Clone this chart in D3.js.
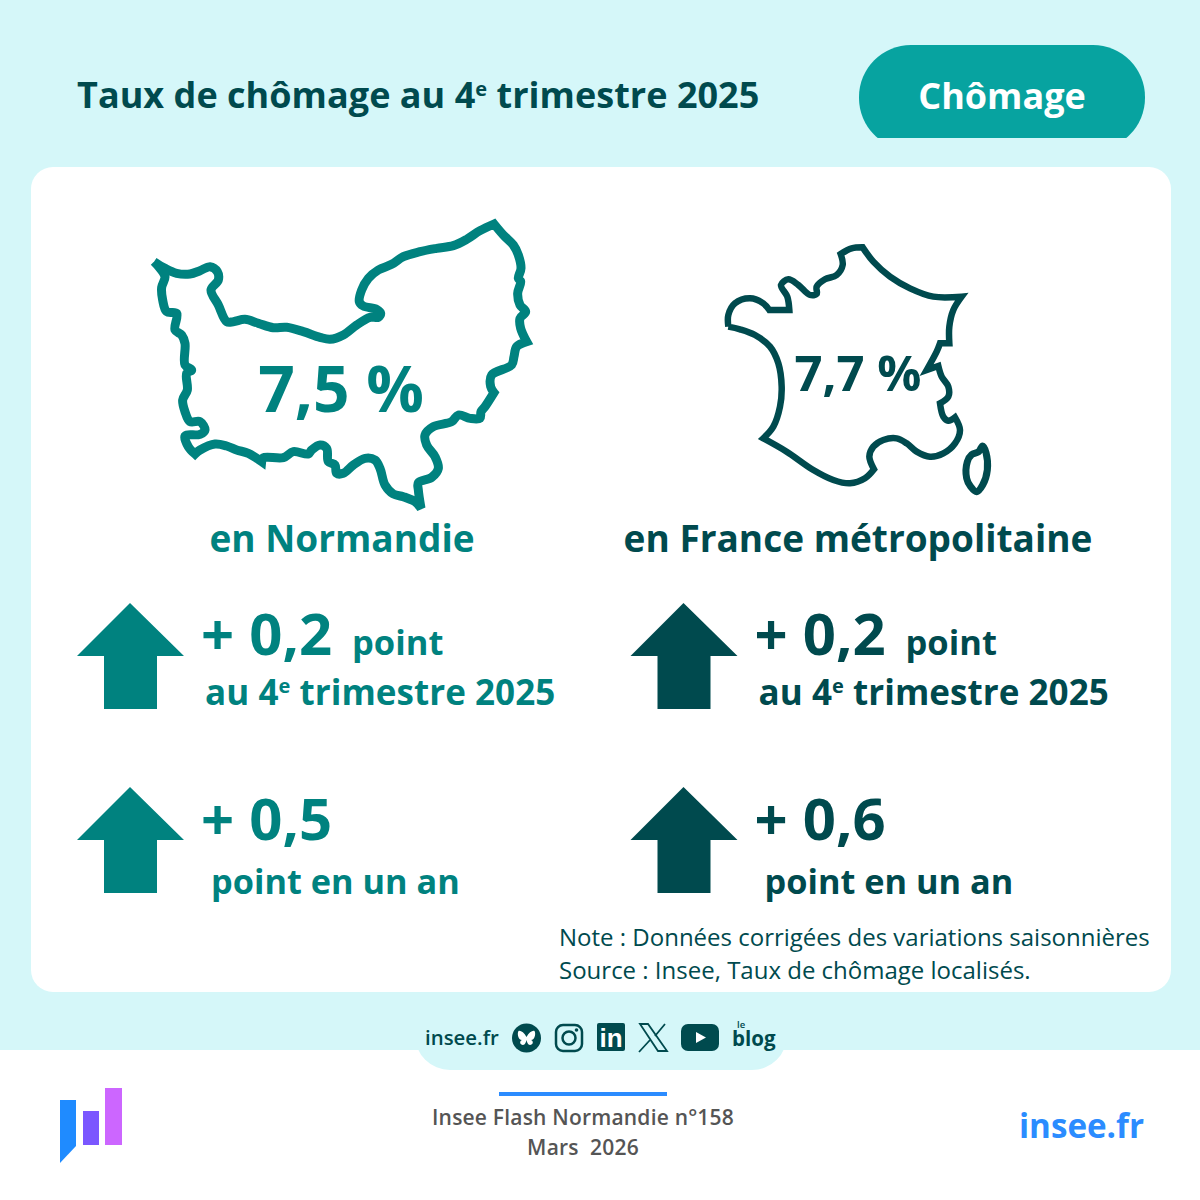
<!DOCTYPE html>
<html><head><meta charset="utf-8">
<script src="https://cdn.jsdelivr.net/npm/d3@7"></script>
<style>html,body{margin:0;padding:0;background:#d5f7f9}svg{display:block}text{font-family:"Open Sans",sans-serif}</style>
</head><body><svg id="c" width="1200" height="1200"></svg>
<script>
const title = ["Taux de chômage au 4", "e", " trimestre 2025"];
const badge = "Chômage";
const areas = ["en Normandie", "en France métropolitaine"];
const rates = ["7,5 %", "7,7 %"];
const quarterChange = ["+ 0,2", "+ 0,2"];
const yearChange = ["+ 0,5", "+ 0,6"];
const colors = ["#00827f", "#004a4e"];
const notes = ["Note : Données corrigées des variations saisonnières", "Source : Insee, Taux de chômage localisés."];
const footerLines = ["Insee Flash Normandie n°158", "Mars  2026"];

const normandie = [[72,185],[72,185],[105,205],[140,220],[180,222],[210,212],[240,200],[262,215],[265,240],[243,270],[265,315],[290,365],[310,365],[345,358],[385,370],[430,383],[470,382],[520,395],[570,412],[600,418],[640,405],[680,375],[720,352],[745,352],[752,340],[740,328],[700,318],[688,305],[695,270],[715,235],[745,210],[785,193],[820,170],[870,155],[920,145],[970,137],[1010,118],[1050,92],[1092,72],[1092,72],[1120,105],[1150,135],[1165,165],[1173,205],[1165,235],[1172,245],[1163,280],[1170,315],[1187,335],[1170,355],[1172,385],[1190,425],[1190,425],[1160,440],[1152,470],[1145,495],[1085,525],[1082,560],[1092,578],[1092,578],[1065,620],[1053,635],[1050,655],[1020,655],[985,645],[965,665],[910,680],[885,705],[890,735],[915,770],[925,805],[905,832],[865,848],[865,870],[873,925],[873,925],[855,905],[820,890],[790,882],[765,855],[750,805],[735,780],[705,775],[670,795],[640,820],[620,820],[615,795],[595,785],[590,745],[570,735],[545,750],[535,762],[490,755],[460,773],[400,773],[395,785],[395,785],[355,760],[320,750],[290,738],[255,732],[210,750],[195,762],[195,762],[175,740],[165,708],[210,703],[225,690],[210,665],[180,665],[165,635],[158,600],[172,570],[170,520],[185,510],[165,495],[165,430],[155,405],[135,390],[140,340],[110,335],[98,300],[95,262],[105,230],[90,205]];
const france = [[85,290],[85,290],[85,255],[105,220],[150,205],[190,220],[208,240],[208,240],[268,240],[268,240],[262,200],[243,165],[265,148],[295,165],[330,195],[350,192],[350,170],[375,148],[410,135],[428,105],[422,72],[422,72],[455,55],[488,52],[488,52],[520,95],[570,140],[630,175],[700,200],[785,200],[785,200],[760,240],[748,290],[748,340],[748,340],[720,340],[720,340],[710,365],[680,420],[680,420],[715,408],[715,408],[725,440],[745,470],[745,500],[720,520],[720,520],[730,560],[745,572],[765,562],[765,562],[780,600],[765,640],[730,670],[690,680],[650,665],[620,640],[590,625],[550,630],[520,650],[508,680],[522,718],[522,718],[495,745],[450,760],[400,750],[340,720],[260,665],[190,625],[190,625],[220,590],[240,530],[245,470],[235,400],[210,350],[165,315],[120,298]];
const corse = [[836,665],[848,648],[858,668],[862,720],[848,765],[830,785],[812,770],[800,745],[802,695],[815,674]];

const svg = d3.select("#c");
const nx = d3.scaleLinear().domain([0,1260]).range([130,550]);
const ny = d3.scaleLinear().domain([0,960]).range([200,520]);
const fx = d3.scaleLinear().domain([0,930]).range([700,1010]);
const fy = d3.scaleLinear().domain([0,840]).range([230,510]);
const col = d3.scaleOrdinal().domain([0,1]).range([0,553.5]);

// backgrounds
svg.append("rect").attr("width",1200).attr("height",1200).attr("fill","#d5f7f9");
svg.append("rect").attr("x",31).attr("y",167).attr("width",1140).attr("height",825).attr("rx",22).attr("fill","#fff");
svg.append("rect").attr("x",0).attr("y",1050).attr("width",1200).attr("height",150).attr("fill","#fff");
svg.append("path").attr("d","M415 1030H787V1035A35 35 0 0 1 752 1070H450A35 35 0 0 1 415 1035Z").attr("fill","#d5f7f9");

// header
const t = svg.append("text").attr("x",77).attr("y",108).attr("fill","#004a4e").attr("font-size",36).attr("font-weight",700).attr("letter-spacing",0.03);
t.append("tspan").text(title[0]);
t.append("tspan").text(title[1]).attr("font-size",20).attr("dy",-12);
t.append("tspan").text(title[2]).attr("dy",12);
svg.append("clipPath").attr("id","pill").append("rect").attr("x",850).attr("y",40).attr("width",310).attr("height",98);
svg.append("rect").attr("clip-path","url(#pill)").attr("x",859).attr("y",45).attr("width",286).attr("height",105).attr("rx",52).attr("fill","#07a3a0");
svg.append("text").attr("x",1002).attr("y",109).attr("text-anchor","middle").attr("fill","#fff").attr("font-size",36).attr("font-weight",700).text(badge);

// maps
const closed = d3.line().curve(d3.curveCatmullRomClosed.alpha(0.5));
svg.append("path").attr("d",closed(normandie.map(d=>[nx(d[0]),ny(d[1])]))).attr("fill","none").attr("stroke",colors[0]).attr("stroke-width",9).attr("stroke-linejoin","miter").attr("stroke-miterlimit",3);
svg.append("path").attr("d",closed(france.map(d=>[fx(d[0]),fy(d[1])]))).attr("fill","none").attr("stroke",colors[1]).attr("stroke-width",6.5).attr("stroke-miterlimit",6);
svg.append("path").attr("d",closed(corse.map(d=>[fx(d[0]),fy(d[1])]))).attr("fill","none").attr("stroke",colors[1]).attr("stroke-width",7).attr("stroke-linejoin","round");

// rates and labels
const rateX=[341,858], rateY=[412,391], rateS=[64,49], areaX=[342,858];
rates.forEach((r,i)=>{
  svg.append("text").attr("x",rateX[i]).attr("y",rateY[i]).attr("text-anchor","middle").attr("fill",colors[i]).attr("font-size",rateS[i]).attr("font-weight",700).text(r);
  svg.append("text").attr("x",areaX[i]).attr("y",552).attr("text-anchor","middle").attr("fill",colors[i]).attr("font-size",37).attr("font-weight",700).text(areas[i]);
});

// arrows and changes
const arrow = y => `M130 ${y}L184 ${y+53}H157V${y+106}H104V${y+53}H77Z`;
[0,1].forEach(i=>{
  const g = svg.append("g").attr("transform",`translate(${col(i)},0)`).attr("fill",colors[i]);
  g.append("path").attr("d",arrow(603));
  g.append("path").attr("d",arrow(787));
  g.append("text").attr("x",201).attr("y",655).attr("font-size",58).attr("font-weight",700).text(quarterChange[i]);
  g.append("text").attr("x",352).attr("y",655).attr("font-size",34.5).attr("font-weight",700).text("point");
  const l = g.append("text").attr("x",205).attr("y",705).attr("font-size",35).attr("font-weight",700).attr("letter-spacing",0.05);
  l.append("tspan").text("au 4");
  l.append("tspan").text("e").attr("font-size",20).attr("dy",-12);
  l.append("tspan").text(" trimestre 2025").attr("dy",12);
  g.append("text").attr("x",201).attr("y",840).attr("font-size",58).attr("font-weight",700).text(yearChange[i]);
  g.append("text").attr("x",211).attr("y",894).attr("font-size",34.3).attr("font-weight",700).text("point en un an");
});

// note
notes.forEach((n,i)=>svg.append("text").attr("x",559).attr("y",946+i*33).attr("fill","#004a4e").attr("font-size",24).text(n));

// social row
const dk="#004a4e";
svg.append("text").attr("x",425).attr("y",1045).attr("fill",dk).attr("font-size",20.4).attr("font-weight",600).text("insee.fr");
svg.append("circle").attr("cx",526.5).attr("cy",1038).attr("r",14.5).attr("fill",dk);
svg.append("path").attr("d","M526.5 1037C524 1032 520 1030 518.5 1031C517 1033 518 1040 522 1040C519 1041 520 1045 523 1045C525 1045 526 1042 526.5 1040C527 1042 528 1045 530 1045C533 1045 534 1041 531 1040C535 1040 536 1033 534.500 1031C533 1030 529 1032 526.5 1037Z").attr("fill","#fff");
svg.append("rect").attr("x",556).attr("y",1025).attr("width",26).attr("height",26).attr("rx",7).attr("fill","none").attr("stroke",dk).attr("stroke-width",2.5);
svg.append("circle").attr("cx",569).attr("cy",1038).attr("r",6.5).attr("fill","none").attr("stroke",dk).attr("stroke-width",2.5);
svg.append("circle").attr("cx",576.500).attr("cy",1030).attr("r",1.8).attr("fill",dk);
svg.append("rect").attr("x",597).attr("y",1023).attr("width",28).attr("height",28).attr("rx",2).attr("fill",dk);
svg.append("text").attr("x",611).attr("y",1047).attr("text-anchor","middle").attr("fill","#fff").attr("font-size",26).attr("font-weight",700).attr("style","font-family:'Liberation Sans'").text("in");
svg.append("path").attr("d","M640 1024H648L667 1051H658Z").attr("fill","none").attr("stroke",dk).attr("stroke-width",1.8);
svg.append("path").attr("d","M665 1024L655 1036M650 1040L639 1052").attr("fill","none").attr("stroke",dk).attr("stroke-width",1.8);
svg.append("rect").attr("x",681).attr("y",1024).attr("width",38).attr("height",27).attr("rx",7).attr("fill",dk);
svg.append("path").attr("d","M696 1032L706 1037.500L696 1043Z").attr("fill","#fff");
svg.append("text").attr("x",737).attr("y",1028).attr("fill",dk).attr("font-size",9.500).attr("font-weight",600).text("le");
svg.append("text").attr("x",732).attr("y",1046).attr("fill",dk).attr("font-size",20.5).attr("font-weight",700).text("blog");

// footer
svg.append("rect").attr("x",499).attr("y",1092).attr("width",168).attr("height",4).attr("fill","#2b8cff");
footerLines.forEach((s,i)=>svg.append("text").attr("x",583).attr("y",1125+i*29.500).attr("text-anchor","middle").attr("fill","#555").attr("font-size",21).attr("font-weight",600).attr("letter-spacing",0.2).attr("style","white-space:pre").text(s));
svg.append("text").attr("x",1144).attr("y",1138).attr("text-anchor","end").attr("fill","#2b8cff").attr("font-size",33.2).attr("font-weight",700).text("insee.fr");
svg.append("path").attr("d","M60 1100H76V1146L60 1163Z").attr("fill","#1f8bff");
svg.append("rect").attr("x",83).attr("y",1111).attr("width",16).attr("height",34).attr("fill","#7b57ff");
svg.append("rect").attr("x",105).attr("y",1088).attr("width",17).attr("height",57).attr("fill","#cc66ff");
</script></body></html>
